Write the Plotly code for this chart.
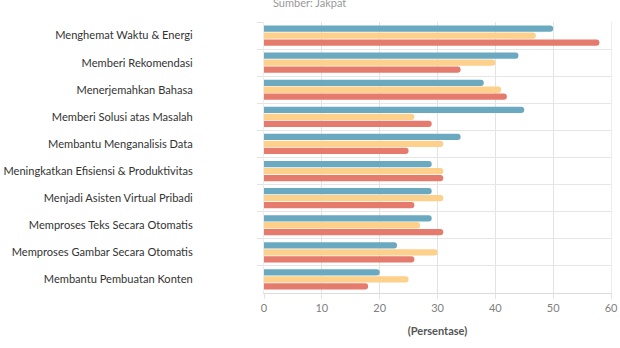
import plotly.graph_objects as go

categories = [
    "Menghemat Waktu & Energi",
    "Memberi Rekomendasi",
    "Menerjemahkan Bahasa",
    "Memberi Solusi atas Masalah",
    "Membantu Menganalisis Data",
    "Meningkatkan Efisiensi & Produktivitas",
    "Menjadi Asisten Virtual Pribadi",
    "Memproses Teks Secara Otomatis",
    "Memproses Gambar Secara Otomatis",
    "Membantu Pembuatan Konten",
]
series_blue = [50, 44, 38, 45, 34, 29, 29, 29, 23, 20]
series_yellow = [47, 40, 41, 26, 31, 31, 31, 27, 30, 25]
series_red = [58, 34, 42, 29, 25, 31, 26, 31, 26, 18]
x_ticks = [0, 10, 20, 30, 40, 50, 60]

FONT = "Lato, 'Open Sans', sans-serif"

fig = go.Figure()
for vals, color in [
    (series_blue, "#6aa9c0"),
    (series_yellow, "#fdd08b"),
    (series_red, "#e57b6d"),
]:
    fig.add_trace(go.Bar(
        y=categories, x=vals, orientation="h",
        marker=dict(color=color, line=dict(width=0), cornerradius=3),
        hoverinfo="x+y",
    ))

fig.update_layout(
    width=620, height=348,
    margin=dict(l=264, r=9, t=22, b=55),
    paper_bgcolor="white", plot_bgcolor="white",
    barmode="group", bargap=0.23, bargroupgap=0.1,
    showlegend=False,
    font=dict(family=FONT, color="#333333", size=11),
    xaxis=dict(
        range=[0, 60], tickvals=x_ticks, showgrid=True, gridcolor="#e3e3e3",
        zeroline=False, ticks="outside", ticklen=5, tickcolor="#e3e3e3",
        showline=True, linecolor="#dcdcdc", automargin=False,
        tickfont=dict(size=11, color="#808080"),
        title=dict(text="<b>(Persentase)</b>", font=dict(size=11, color="#555555"), standoff=14),
    ),
    yaxis=dict(
        type="category", autorange="reversed", tickson="boundaries",
        showgrid=True, gridcolor="#e6e6e6", ticks="outside", ticklen=6,
        tickcolor="#e3e3e3", ticklabelstandoff=68, zeroline=False,
        showline=True, linecolor="#ececec", mirror=True, automargin=False,
        tickfont=dict(size=11.1, color="#333333"),
    ),
    annotations=[dict(
        text="Sumber: Jakpat", xref="paper", yref="paper", x=0.02, y=1.0,
        yshift=11, xanchor="left", yanchor="bottom", showarrow=False,
        font=dict(size=11, color="#999999"),
    )],
)

fig.write_html("out.html")
